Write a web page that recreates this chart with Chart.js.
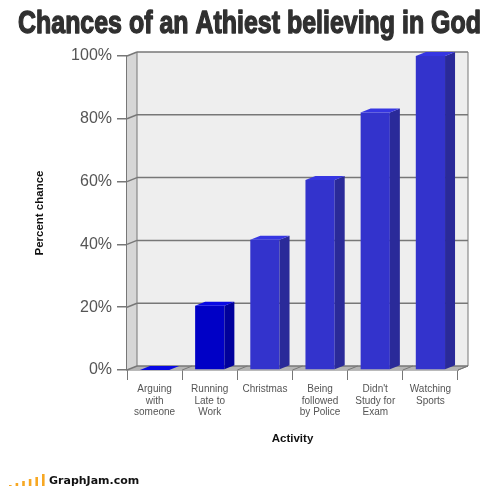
<!DOCTYPE html>
<html>
<head>
<meta charset="utf-8">
<title>Chances of an Athiest believing in God</title>
<style>
  body { margin: 0; background: #fff; }
  canvas { display: block; }
</style>
<script src="https://cdn.jsdelivr.net/npm/chart.js@4"></script>
</head>
<body>
<canvas id="grafik" width="500" height="487"></canvas>
<script>
const chartTitle = 'Chances of an Athiest believing in God';
const activities = [
  ['Arguing', 'with', 'someone'],
  ['Running', 'Late to', 'Work'],
  ['Christmas'],
  ['Being', 'followed', 'by Police'],
  ["Didn't", 'Study for', 'Exam'],
  ['Watching', 'Sports']
];
const percentChance = [0, 20.5, 41.5, 60.5, 82, 100];

const frontColors = ['#0000c6', '#0000c6', '#3333cc', '#3333cc', '#3333cc', '#3333cc'];
const sideColors = ['#00009c', '#00009c', '#2a2a99', '#2a2a99', '#2a2a99', '#2a2a99'];
const topColors = ['#0808e4', '#0808e4', '#3636e2', '#3636e2', '#3636e2', '#3636e2'];

// how far the back plane is pushed from the front one
const DEPTH_X = 10;
const DEPTH_Y = 4;
const LINE_GREY = '#777777';
const TEXT_GREY = '#555555';

function poly(ctx, pts, fill) {
  ctx.beginPath();
  pts.forEach((p, i) => (i ? ctx.lineTo(p[0], p[1]) : ctx.moveTo(p[0], p[1])));
  ctx.closePath();
  ctx.fillStyle = fill;
  ctx.fill();
}

function segment(ctx, x1, y1, x2, y2, width) {
  ctx.beginPath();
  ctx.moveTo(x1, y1);
  ctx.lineTo(x2, y2);
  ctx.lineWidth = width;
  ctx.strokeStyle = LINE_GREY;
  ctx.stroke();
}

// back wall, left wall, floor and the grid lines behind the bars
const roomPlugin = {
  id: 'room',
  beforeDatasetsDraw(chart) {
    const { ctx, chartArea: a, scales } = chart;
    const bx = a.left + DEPTH_X, rx = a.right + DEPTH_X;
    const ty = a.top - DEPTH_Y, by = a.bottom - DEPTH_Y;
    ctx.save();
    poly(ctx, [[bx, ty], [rx, ty], [rx, by], [bx, by]], '#eeeeee');
    poly(ctx, [[a.left, a.top], [bx, ty], [bx, by], [a.left, a.bottom]], '#d6d6d6');
    poly(ctx, [[a.left, a.bottom], [bx, by], [rx, by], [a.right, a.bottom]], '#b4b4b4');

    scales.y.ticks.forEach(t => {
      const y = scales.y.getPixelForValue(t.value);
      segment(ctx, a.left, y, bx, y - DEPTH_Y, 1.5);
      if (t.value > 0) segment(ctx, bx, y - DEPTH_Y, rx, y - DEPTH_Y, 1.5);
    });
    segment(ctx, bx, ty, bx, by, 1);
    segment(ctx, rx, ty, rx, by, 1);
    segment(ctx, bx, by, rx, by, 1.5);
    segment(ctx, rx, by, a.right, a.bottom, 1);
    // floor seams running back from every category tick
    scales.x.ticks.forEach((t, i) => {
      const half = (scales.x.getPixelForValue(1) - scales.x.getPixelForValue(0)) / 2;
      const x = scales.x.getPixelForValue(i) + half;
      segment(ctx, x, a.bottom, x + DEPTH_X, by, 1);
    });
    ctx.restore();
  },
  // side and top faces of each bar, taken from the bar elements
  afterDatasetsDraw(chart) {
    const { ctx } = chart;
    ctx.save();
    chart.getDatasetMeta(0).data.forEach((bar, i) => {
      const l = bar.x - bar.width / 2, r = bar.x + bar.width / 2;
      if (bar.base > bar.y) {
        poly(ctx, [[r, bar.y], [r + DEPTH_X, bar.y - DEPTH_Y], [r + DEPTH_X, bar.base - DEPTH_Y], [r, bar.base]], sideColors[i]);
      }
      poly(ctx, [[l, bar.y], [l + DEPTH_X, bar.y - DEPTH_Y], [r + DEPTH_X, bar.y - DEPTH_Y], [r, bar.y]], topColors[i]);
    });
    ctx.restore();
  }
};

// heavy squeezed headline, the built in title can't stroke or condense
const headlinePlugin = {
  id: 'headline',
  afterDraw(chart) {
    const { ctx } = chart;
    ctx.save();
    ctx.font = 'bold 32px "Liberation Sans Narrow", "Liberation Sans"';
    ctx.fillStyle = '#303030';
    ctx.strokeStyle = '#303030';
    ctx.lineWidth = 1.4;
    ctx.lineJoin = 'round';
    ctx.textBaseline = 'alphabetic';
    const squeeze = 463 / ctx.measureText(chartTitle).width;
    ctx.translate(18, 33);
    ctx.scale(squeeze, 1);
    ctx.strokeText(chartTitle, 0, 0);
    ctx.fillText(chartTitle, 0, 0);
    ctx.restore();
  }
};

// site mark in the bottom left corner
const logoBars = [1, 3, 5, 7, 9, 12];
const footerPlugin = {
  id: 'footer',
  afterDraw(chart) {
    const { ctx, height } = chart;
    ctx.save();
    logoBars.forEach((h, i) => {
      ctx.fillStyle = '#f7a823';
      ctx.fillRect(9 + i * 6.6, height - 1 - h, 2.6, h);
    });
    ctx.fillStyle = '#111';
    ctx.font = 'bold 11px "DejaVu Sans"';
    ctx.textBaseline = 'middle';
    ctx.fillText('GraphJam.com', 49, height - 6);
    ctx.restore();
  }
};

new Chart(document.getElementById('grafik').getContext('2d'), {
  type: 'bar',
  data: {
    labels: activities,
    datasets: [{
      label: 'Percent chance',
      data: percentChance,
      backgroundColor: frontColors,
      borderWidth: 0,
      barPercentage: 0.53,
      categoryPercentage: 1
    }]
  },
  options: {
    responsive: false,
    animation: false,
    layout: { padding: { top: 56, right: 42 } },
    plugins: {
      legend: { display: false },
      tooltip: { enabled: false }
    },
    scales: {
      x: {
        afterFit(scale) { scale.height = 117; },
        grid: { drawOnChartArea: false, color: LINE_GREY, tickLength: 10, lineWidth: 1 },
        border: { color: LINE_GREY, width: 1.5 },
        ticks: {
          color: TEXT_GREY,
          padding: 4,
          maxRotation: 0,
          autoSkip: false,
          font: { family: '"Liberation Sans"', size: 10, lineHeight: 1.12 }
        },
        title: {
          display: true,
          text: 'Activity',
          color: '#111111',
          font: { family: '"Liberation Sans"', size: 11.5, weight: 'bold', lineHeight: 1 },
          padding: { top: 0, bottom: 42 }
        }
      },
      y: {
        min: 0,
        max: 100,
        afterFit(scale) { scale.width = 127; },
        grid: { drawOnChartArea: false, color: LINE_GREY, tickLength: 10, lineWidth: 1.5 },
        border: { color: LINE_GREY, width: 1.5 },
        ticks: {
          stepSize: 20,
          color: TEXT_GREY,
          padding: 5,
          font: { family: '"Liberation Sans"', size: 16 },
          callback: v => v + '%'
        },
        title: {
          display: true,
          text: 'Percent chance',
          color: '#111111',
          font: { family: '"Liberation Sans"', size: 11.5, weight: 'bold', lineHeight: 1 },
          padding: { top: 34, bottom: 0 }
        }
      }
    }
  },
  plugins: [roomPlugin, headlinePlugin, footerPlugin]
});
</script>
</body>
</html>
